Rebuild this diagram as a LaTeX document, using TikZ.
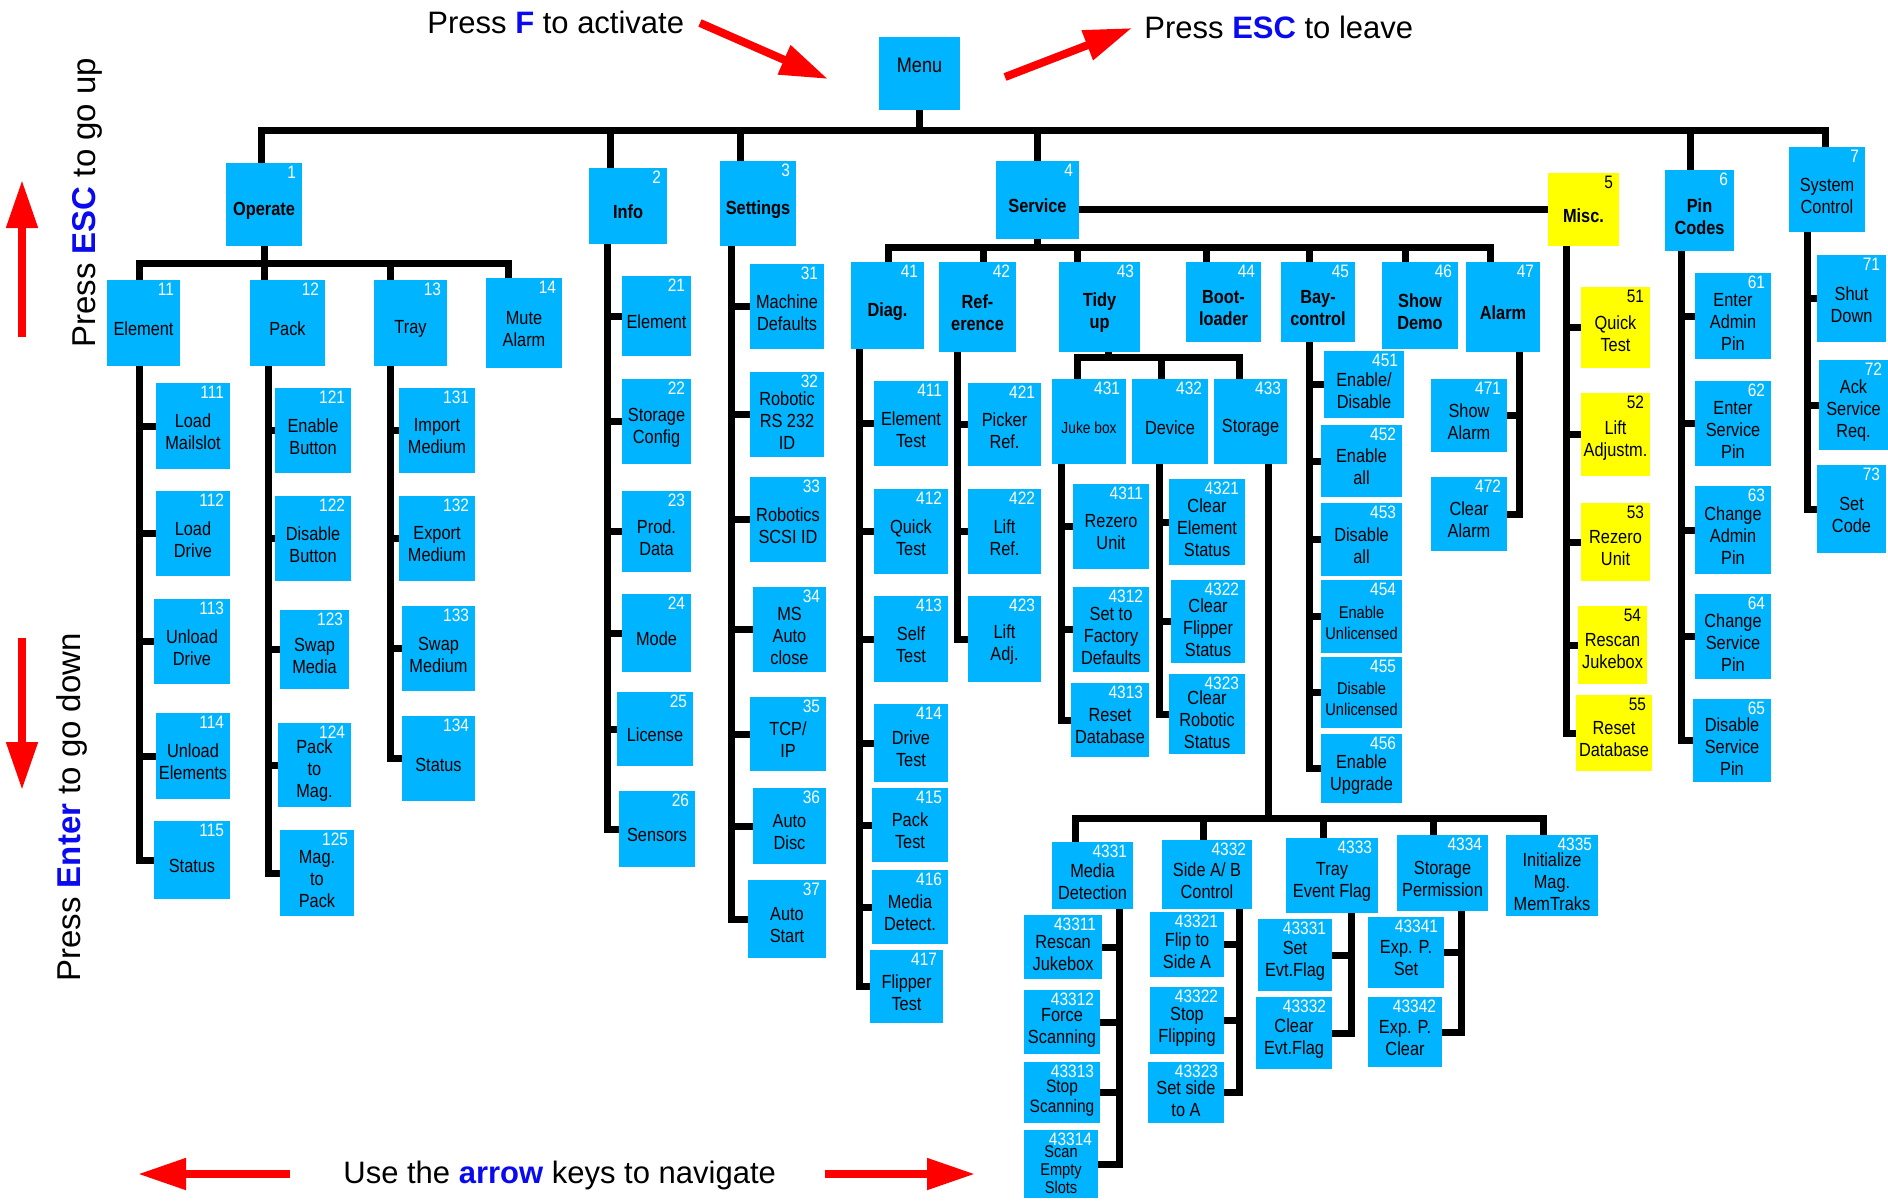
\documentclass[tikz,border=0pt]{standalone}
\usepackage{fontspec}
\setmainfont{Liberation Sans}
\newfontfamily\tilefont[FakeStretch=0.86]{Liberation Sans}
\usetikzlibrary{arrows.meta,fit,backgrounds}

\definecolor{tilecyan}{RGB}{0,180,255}
\definecolor{tileyellow}{RGB}{255,255,0}
\definecolor{keyblue}{RGB}{10,10,240}
\definecolor{hintred}{RGB}{255,0,0}

\newcommand\tilesize{\fontsize{9.5pt}{11pt}\selectfont}
\newcommand\keyname[1]{\textcolor{keyblue}{\bfseries #1}}
% tile: [style]{id}{corners}{label}, number = id
\newcommand\mtile[4][]{%
  \node[menutile, fit={#3}, #1] (n#2) {};
  \node[tilelabel, #1, fill=none] (l#2) at ([yshift=-3pt]n#2.center) {#4};
  \node[tilenum] (k#2) at (n#2.north east) {#2};}

\tikzset{
  menutile/.style = {fill=tilecyan, inner sep=0pt},
  tilelabel/.style = {inner sep=0pt, align=center, font=\tilefont\tilesize},
  boldtile/.style = {font=\tilefont\bfseries\tilesize},
  smalltile/.style = {font=\tilefont\fontsize{8.5pt}{10.5pt}\selectfont},
  tighttile/.style = {font=\tilefont\fontsize{8.5pt}{9pt}\selectfont},
  yellowtile/.style = {fill=tileyellow},
  tilenum/.style = {anchor=north east, inner xsep=3pt, inner ysep=1.5pt, text=white,
                    font=\tilefont\fontsize{9pt}{9pt}\selectfont},
  branch/.style = {line width=3.5pt, line cap=rect},
  keyarrow/.style = {hintred, line width=4pt, -{Triangle[length=24pt, width=15pt]}},
  keytext/.style = {font=\fontsize{15.5pt}{18pt}\selectfont, inner sep=0pt},
  sidetext/.style = {font=\fontsize{16.5pt}{20pt}\selectfont, inner sep=0pt, rotate=90},
}

\begin{document}
\begin{tikzpicture}[x=0.5pt, y=-0.5pt]
  \useasboundingbox (0,0) rectangle (1888,1200);

  % top level
  \node[menutile, fit={(879,37)(960,110)}] (nmenu) {};
  \node[tilelabel, font=\tilefont\fontsize{10.5pt}{12pt}\selectfont] (lmenu) at ([yshift=4pt]nmenu.center) {Menu};
  \mtile[boldtile]{1}{(226,163)(302,246)}{Operate}
  \mtile[boldtile]{2}{(589,168)(667,244)}{Info}
  \mtile[boldtile]{3}{(720,161)(796,246)}{Settings}
  \mtile[boldtile]{4}{(996,161)(1079,239)}{Service}
  \mtile[boldtile]{6}{(1665,170)(1734,251)}{Pin\\Codes}
  \mtile{7}{(1789,147)(1865,232)}{System\\Control}

  % operate
  \mtile{11}{(107,280)(180,366)}{Element}
  \mtile{12}{(250,280)(325,366)}{Pack}
  \mtile{13}{(374,280)(447,366)}{Tray}
  \mtile{14}{(486,278)(562,368)}{Mute\\Alarm}
  \mtile{111}{(156,383)(230,469)}{Load\\Mailslot}
  \mtile{112}{(156,491)(230,576)}{Load\\Drive}
  \mtile{113}{(154,599)(230,684)}{Unload\\Drive}
  \mtile{114}{(156,713)(230,799)}{Unload\\Elements}
  \mtile{115}{(154,821)(230,899)}{Status}
  \mtile{121}{(275,388)(351,473)}{Enable\\Button}
  \mtile{122}{(275,496)(351,581)}{Disable\\Button}
  \mtile{123}{(280,610)(349,689)}{Swap\\Media}
  \mtile{124}{(278,723)(351,807)}{Pack\\to\\Mag.}
  \mtile{125}{(280,830)(354,916)}{Mag.\\to\\Pack}
  \mtile{131}{(399,388)(475,473)}{Import\\Medium}
  \mtile{132}{(399,496)(475,581)}{Export\\Medium}
  \mtile{133}{(402,606)(475,691)}{Swap\\Medium}
  \mtile{134}{(402,716)(475,801)}{Status}

  % info
  \mtile{21}{(622,276)(691,356)}{Element}
  \mtile{22}{(622,379)(691,464)}{Storage\\Config}
  \mtile{23}{(622,491)(691,572)}{Prod.\\Data}
  \mtile{24}{(622,594)(691,672)}{Mode}
  \mtile{25}{(617,692)(693,766)}{License}
  \mtile{26}{(619,791)(695,867)}{Sensors}

  % settings
  \mtile{31}{(750,264)(824,349)}{Machine\\Defaults}
  \mtile{32}{(750,372)(824,457)}{Robotic\\RS 232\\ID}
  \mtile{33}{(750,477)(826,562)}{Robotics\\SCSI ID}
  \mtile{34}{(753,587)(826,672)}{MS\\Auto\\close}
  \mtile{35}{(750,697)(826,771)}{TCP/\\IP}
  \mtile{36}{(753,788)(826,864)}{Auto\\Disc}
  \mtile{37}{(748,880)(826,958)}{Auto\\Start}

  % service
  \mtile[boldtile]{41}{(851,262)(924,349)}{Diag.}
  \mtile[boldtile]{42}{(939,262)(1016,352)}{Ref-\\erence}
  \mtile[boldtile]{43}{(1059,262)(1140,352)}{Tidy\\up}
  \mtile[boldtile]{44}{(1186,262)(1261,342)}{Boot-\\loader}
  \mtile[boldtile]{45}{(1281,262)(1355,342)}{Bay-\\control}
  \mtile[boldtile]{46}{(1382,262)(1458,349)}{Show\\Demo}
  \mtile[boldtile]{47}{(1466,262)(1540,352)}{Alarm}
  \mtile{411}{(874,381)(948,466)}{Element\\Test}
  \mtile{412}{(874,489)(948,574)}{Quick\\Test}
  \mtile{413}{(874,596)(948,682)}{Self\\Test}
  \mtile{414}{(874,704)(948,782)}{Drive\\Test}
  \mtile{415}{(872,788)(948,862)}{Pack\\Test}
  \mtile{416}{(872,870)(948,944)}{Media\\Detect.}
  \mtile{417}{(870,950)(943,1023)}{Flipper\\Test}
  \mtile{421}{(968,383)(1041,466)}{Picker\\Ref.}
  \mtile{422}{(968,489)(1041,574)}{Lift\\Ref.}
  \mtile{423}{(968,596)(1041,682)}{Lift\\Adj.}
  \mtile[font=\tilefont\fontsize{8pt}{10pt}\selectfont]{431}{(1052,379)(1126,464)}{Juke box}
  \mtile{432}{(1132,379)(1208,464)}{Device}
  \mtile{433}{(1214,379)(1287,464)}{Storage}
  \mtile{4311}{(1073,484)(1149,569)}{Rezero\\Unit}
  \mtile{4312}{(1073,587)(1149,672)}{Set to\\Factory\\Defaults}
  \mtile{4313}{(1071,683)(1149,757)}{Reset\\Database}
  \mtile{4321}{(1169,479)(1245,565)}{Clear\\Element\\Status}
  \mtile{4322}{(1171,580)(1245,663)}{Clear\\Flipper\\Status}
  \mtile{4323}{(1169,674)(1245,754)}{Clear\\Robotic\\Status}
  \mtile{4331}{(1052,842)(1133,909)}{Media\\Detection}
  \mtile{4332}{(1162,840)(1252,909)}{Side A/ B\\Control}
  \mtile{4333}{(1286,838)(1378,913)}{Tray\\Event Flag}
  \mtile{4334}{(1397,835)(1488,911)}{Storage\\Permission}
  \mtile{4335}{(1506,835)(1598,916)}{Initialize\\Mag.\\MemTraks}
  \mtile{43311}{(1024,915)(1102,979)}{Rescan\\Jukebox}
  \mtile{43312}{(1024,990)(1100,1054)}{Force\\Scanning}
  \mtile[font=\tilefont\fontsize{9pt}{10pt}\selectfont]{43313}{(1024,1062)(1100,1123)}{Stop\\Scanning}
  \mtile[tighttile]{43314}{(1024,1130)(1098,1198)}{Scan\\Empty\\Slots}
  \mtile{43321}{(1150,912)(1224,977)}{Flip to\\Side A}
  \mtile{43322}{(1150,987)(1224,1054)}{Stop\\Flipping}
  \mtile{43323}{(1148,1062)(1224,1123)}{Set side\\to A}
  \mtile{43331}{(1258,919)(1332,991)}{Set\\Evt.Flag}
  \mtile{43332}{(1256,997)(1332,1069)}{Clear\\Evt.Flag}
  \mtile{43341}{(1368,917)(1444,988)}{Exp. P.\\Set}
  \mtile{43342}{(1368,997)(1442,1067)}{Exp. P.\\Clear}
  \mtile{451}{(1324,351)(1404,418)}{Enable/\\Disable}
  \mtile{452}{(1321,425)(1402,497)}{Enable\\all}
  \mtile{453}{(1321,503)(1402,576)}{Disable\\all}
  \mtile[smalltile]{454}{(1321,580)(1402,653)}{Enable\\Unlicensed}
  \mtile[smalltile]{455}{(1321,657)(1402,728)}{Disable\\Unlicensed}
  \mtile{456}{(1321,734)(1402,803)}{Enable\\Upgrade}
  \mtile{471}{(1431,379)(1507,452)}{Show\\Alarm}
  \mtile{472}{(1431,477)(1507,551)}{Clear\\Alarm}

  % misc
  \begin{scope}[tilenum/.append style={text=black}]
    \mtile[boldtile, yellowtile]{5}{(1548,173)(1619,246)}{Misc.}
    \mtile[yellowtile]{51}{(1581,287)(1650,368)}{Quick\\Test}
    \mtile[yellowtile]{52}{(1581,393)(1650,476)}{Lift\\Adjustm.}
    \mtile[yellowtile]{53}{(1581,503)(1650,581)}{Rezero\\Unit}
    \mtile[yellowtile]{54}{(1578,606)(1647,684)}{Rescan\\Jukebox}
    \mtile[yellowtile]{55}{(1576,695)(1652,771)}{Reset\\Database}
  \end{scope}

  % pin codes, system
  \mtile{61}{(1695,273)(1771,359)}{Enter\\Admin\\Pin}
  \mtile{62}{(1695,381)(1771,466)}{Enter\\Service\\Pin}
  \mtile{63}{(1695,486)(1771,574)}{Change\\Admin\\Pin}
  \mtile{64}{(1695,594)(1771,679)}{Change\\Service\\Pin}
  \mtile{65}{(1693,699)(1771,782)}{Disable\\Service\\Pin}
  \mtile{71}{(1817,255)(1886,342)}{Shut\\Down}
  \mtile{72}{(1819,360)(1888,450)}{Ack\\Service\\Req.}
  \mtile{73}{(1817,465)(1886,553)}{Set\\Code}

  % key hints
  \node[keytext, anchor=base west] (hintF) at (427,33) {Press \keyname{F} to activate};
  \node[keytext, anchor=base west] (hintEsc) at (1144,38) {Press \keyname{ESC} to leave};
  \node[keytext, anchor=base west] (hintNav) at (343,1183) {Use the \keyname{arrow} keys to navigate};
  \node[sidetext, anchor=base west] (hintUp) at (95,348) {Press \keyname{ESC} to go up};
  \node[sidetext, anchor=base west] (hintDown) at (80,982) {Press \keyname{Enter} to go down};

  \coordinate (aF1) at (700,23);    \coordinate (aF2) at (828,79);
  \coordinate (aEsc1) at (1005,77); \coordinate (aEsc2) at (1132,28);
  \coordinate (aUp1) at (22,337);   \coordinate (aUp2) at (22,180);
  \coordinate (aDn1) at (22,638);   \coordinate (aDn2) at (22,790);
  \coordinate (aL1) at (290,1174);  \coordinate (aL2) at (138,1174);
  \coordinate (aR1) at (825,1174);  \coordinate (aR2) at (975,1174);
  \foreach \a in {aF, aEsc, aUp, aDn, aL, aR}
    \draw[keyarrow] (\a1) -- (\a2);

  \begin{scope}[on background layer]
    \fill[white] (0,0) rectangle (1888,1200);

    % main bus
    \coordinate (top1) at (261,130);
    \coordinate (top7) at (1825,130);
    \draw[branch] (n1.north -| top1) -- (top1) -- (top7) -- (top7 |- n7.north);
    \draw[branch] (nmenu.south) -- (nmenu.south |- top1);
    \foreach \n/\x in {2/610, 3/740, 4/1037, 6/1690} {
      \coordinate (j\n) at (\x,130);
      \draw[branch] (j\n) -- (j\n |- n\n.north);
    }
    \draw[branch] (n4.east |- n5.west) -- (n5.west);

    % operate bus
    \coordinate (op11) at (139,263);
    \coordinate (op14) at (508,263);
    \draw[branch] (n11.north -| op11) -- (op11) -- (op14) -- (op14 |- n14.north);
    \draw[branch] (n1.south) -- (n1.south |- n12.north);
    \coordinate (op13) at (390,263);
    \draw[branch] (op13) -- (op13 |- n13.north);

    % service bus
    \coordinate (sv41) at (888,247);
    \coordinate (sv47) at (1490,247);
    \draw[branch] (n41.north -| sv41) -- (sv41) -- (sv47) -- (sv47 |- n47.north);
    \draw[branch] (n4.south) -- (n4.south |- sv41);
    \foreach \n/\x in {42/983, 43/1077, 44/1206, 45/1309, 46/1405} {
      \coordinate (j\n) at (\x,247);
      \draw[branch] (j\n) -- (j\n |- n\n.north);
    }

    % tidy up bus
    \coordinate (td431) at (1077,357);
    \coordinate (td433) at (1239,357);
    \draw[branch] (n431.north -| td431) -- (td431) -- (td433) -- (td433 |- n433.north);
    \coordinate (td43) at (1108,357);
    \draw[branch] (td43) -- (td43 |- n43.south);
    \coordinate (td432) at (1161,357);
    \draw[branch] (td432) -- (td432 |- n432.north);

    % storage bus
    \coordinate (st433) at (1268,464);
    \coordinate (st4331) at (1075,818);
    \coordinate (st4335) at (1543,818);
    \draw[branch] (st433) -- (st433 |- st4331);
    \draw[branch] (n4331.north -| st4331) -- (st4331) -- (st4335) -- (st4335 |- n4335.north);
    \foreach \n/\x in {4332/1203, 4333/1323, 4334/1433} {
      \coordinate (j\n) at (\x,818);
      \draw[branch] (j\n) -- (j\n |- n\n.north);
    }

    % spines, children on the right
    \foreach \p/\x/\y/\kids in {
        11/139/366/{111,112,113,114,115},
        12/268/366/{121,122,123,124,125},
        13/390/366/{131,132,133,134},
        2/607/244/{21,22,23,24,25,26},
        3/731/246/{31,32,33,34,35,36,37},
        41/859/349/{411,412,413,414,415,416,417},
        42/957/352/{421,422,423},
        431/1061/464/{4311,4312,4313},
        432/1159/464/{4321,4322,4323},
        45/1309/342/{451,452,453,454,455,456},
        5/1566/246/{51,52,53,54,55},
        6/1681/251/{61,62,63,64,65},
        7/1807/232/{71,72,73}} {
      \coordinate (sp\p) at (\x,\y);
      \foreach \k in \kids
        \draw[branch] (sp\p) |- (n\k.west);
    }

    % spines, children on the left
    \foreach \p/\x/\y/\kids in {
        47/1519/352/{471,472},
        4331/1119/909/{43311,43312,43313,43314},
        4332/1239/909/{43321,43322,43323},
        4333/1351/913/{43331,43332},
        4334/1461/911/{43341,43342}} {
      \coordinate (sp\p) at (\x,\y);
      \foreach \k in \kids
        \draw[branch] (sp\p) |- (n\k.east);
    }
  \end{scope}
\end{tikzpicture}
\end{document}
